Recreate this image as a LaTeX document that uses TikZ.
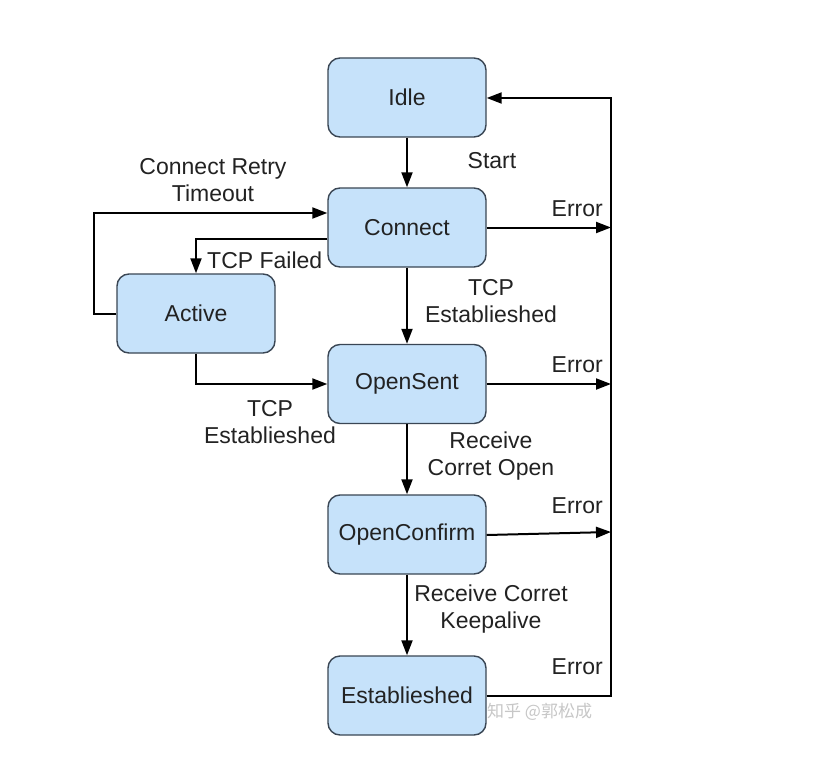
\documentclass[tikz,border=0pt]{standalone}
\usepackage{fontspec}
\setmainfont{Liberation Sans}
\newfontfamily\cjk{Noto Sans CJK SC}
\usetikzlibrary{arrows.meta}
\definecolor{boxfill}{HTML}{C6E2FA}
\definecolor{boxline}{HTML}{3A4654}
\definecolor{txt}{HTML}{222222}
\tikzset{
  state/.style={draw=boxline, line width=1.4pt, fill=boxfill, rounded corners=12pt,
    minimum width=158pt, minimum height=79pt, inner sep=0pt, text=txt,
    font=\fontsize{23}{27}\selectfont},
  conn/.style={line width=2pt, draw=black, -{Triangle[length=15pt,width=11pt]}},
  lbl/.style={font=\fontsize{23}{27}\selectfont, text=txt, align=center, inner sep=0pt},
}
\begin{document}
\begin{tikzpicture}[x=1pt,y=-1pt]
\useasboundingbox (0,0) rectangle (829,778);
\fill[white] (0,0) rectangle (829,778);
% states
\node[state] (idle) at (407,97.5) {Idle};
\node[state] (connect) at (407,227.5) {Connect};
\node[state] (active) at (196,313.5) {Active};
\node[state] (opensent) at (407,384) {OpenSent};
\node[state] (openconfirm) at (407,534.5) {OpenConfirm};
\node[state] (est) at (407,695.5) {Establieshed};
% right bus coordinates
\coordinate (eC) at (611,227.5);
\coordinate (eS) at (611,384);
\coordinate (eO) at (611,532);
\coordinate (eE) at (611,695.5);
\coordinate (eTop) at (611,98);
\coordinate (lTop) at (94,213);
\coordinate (lBot) at (94,313.5);
\coordinate (tf) at (196,239);
\coordinate (ab) at (196,384);
% main flow
\draw[conn] (idle) -- (connect);
\draw[conn] (connect) -- (opensent);
\draw[conn] (opensent) -- (openconfirm);
\draw[conn] (openconfirm) -- (est);
% errors
\draw[conn] (connect.east) -- (eC);
\draw[conn] (opensent.east) -- (eS);
\draw[conn] (openconfirm.east |- 0,535) -- (eO);
\draw[conn] (est.east) -- (eE) -- (eTop) -- (idle.east |- eTop);
% retry and failed
\draw[conn] (active.west) -- (lBot) -- (lTop) -- (connect.west |- lTop);
\draw[conn] (connect.west |- tf) -- (tf) -- (active.north);
\draw[conn] (active.south) -- (ab) -- (opensent.west);
% labels
\node[lbl] (lstart) at (492,161) {Start};
\node[lbl] (lretry) at (213,180.5) {Connect Retry\\Timeout};
\node[lbl, anchor=west] (lfail) at (207,260) {TCP Failed};
\node[lbl] (ltcp1) at (491,301.5) {TCP\\Establieshed};
\node[lbl] (ltcp2) at (270,422.5) {TCP\\Establieshed};
\node[lbl] (lrecv1) at (491,456.5) {Receive\\Corret Open};
\node[lbl] (lrecv2) at (491,609.5) {Receive Corret\\Keepalive};
\node[lbl, anchor=east] (err1) at (603,209) {Error};
\node[lbl, anchor=east] (err2) at (603,365) {Error};
\node[lbl, anchor=east] (err3) at (603,506) {Error};
\node[lbl, anchor=east] (err4) at (603,667) {Error};
\node[font=\cjk\fontsize{17}{20}\selectfont, text=black!22, anchor=west, inner sep=0pt] (wm) at (487,712) {知乎 @郭松成};
\end{tikzpicture}
\end{document}
